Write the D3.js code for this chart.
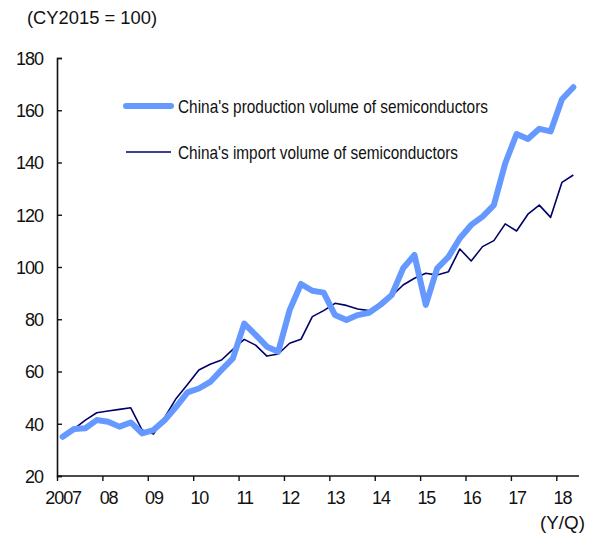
<!DOCTYPE html>
<html>
<head>
<meta charset="utf-8">
<script src="https://cdn.jsdelivr.net/npm/d3@7"></script>
<style>
  html, body { margin: 0; padding: 0; background: #fff; }
  svg text { font-family: "Liberation Sans", Arial, sans-serif; fill: #111; }
</style>
</head>
<body>
<svg id="chart" width="599" height="534"></svg>
<script>
// Quarterly index, CY2015 = 100, 2007 Q1 .. 2018 Q2
const quarters = d3.range(46).map(i => `${2007 + Math.floor(i / 4)}Q${(i % 4) + 1}`);

const production = [
  35.0, 38.0, 38.3, 41.4,
  40.8, 38.9, 40.5, 36.3,
  37.6, 41.4, 46.5, 52.0,
  53.5, 56.0, 60.6, 65.0,
  78.3, 74.0, 69.5, 67.6,
  83.5, 93.5, 90.9, 90.2,
  81.6, 79.7, 81.6, 82.5,
  85.5, 89.3, 99.5, 104.6,
  85.5, 99.5, 103.9, 111.0,
  116.1, 119.3, 123.7, 139.7,
  150.9, 149.0, 152.9, 151.9,
  164.2, 168.8
];

const imports = [
  34.8, 38.0, 41.4, 44.2,
  44.9, 45.5, 46.1, 37.6,
  36.1, 42.5, 49.7, 55.0,
  60.6, 62.8, 64.4, 68.5,
  72.3, 70.1, 65.9, 66.7,
  70.8, 72.3, 81.0, 83.3,
  86.1, 85.3, 83.9, 83.3,
  86.3, 88.9, 93.1, 95.7,
  97.6, 96.9, 98.2, 106.9,
  102.3, 107.8, 110.1, 116.5,
  113.8, 120.2, 123.7, 119.0,
  132.4, 135.2
];

const yearLabels = ["2007", "08", "09", "10", "11", "12", "13", "14", "15", "16", "17", "18"];
const yTicks = [20, 40, 60, 80, 100, 120, 140, 160, 180];

const seriesNames = [
  "China's production volume of semiconductors",
  "China's import volume of semiconductors"
];

const svg = d3.select("#chart");

const plotLeft = 57, plotRight = 579, plotTop = 58, plotBottom = 476;

// category axis: one slot per quarter, points in the middle of each slot
const x = d3.scaleLinear().domain([0, quarters.length]).range([plotLeft, plotRight]);
const y = d3.scaleLinear().domain([20, 180]).range([plotBottom, plotTop]);
const slot = x(1) - x(0);

// y axis, ticks pointing inward
const yAxis = svg.append("g")
  .attr("transform", `translate(${plotLeft},0)`)
  .call(d3.axisLeft(y).tickValues(yTicks).tickSize(-5).tickPadding(14));
yAxis.select(".domain").attr("stroke", "#111").attr("stroke-width", 1.6);
yAxis.selectAll(".tick line").attr("stroke", "#111").attr("stroke-width", 1.4);
yAxis.selectAll("text")
  .attr("font-size", 18).attr("letter-spacing", -1).attr("fill", "#111")
  .attr("dy", "0.36em");

// x axis, ticks at the start of each year, labels under the first quarter
const xAxis = svg.append("g")
  .attr("transform", `translate(0,${plotBottom})`)
  .call(d3.axisBottom(x)
    .tickValues(d3.range(0, quarters.length, 4))
    .tickSize(5).tickPadding(10)
    .tickFormat((d, i) => yearLabels[i]));
xAxis.select(".domain").attr("stroke", "#111").attr("stroke-width", 1.6)
  .attr("d", `M${plotLeft},0H${plotRight}`);
xAxis.selectAll(".tick line").attr("stroke", "#111").attr("stroke-width", 1.4);
xAxis.selectAll("text")
  .attr("x", slot / 2)
  .attr("font-size", 18).attr("letter-spacing", -1.1).attr("fill", "#111");

// unit and period captions
svg.append("text").attr("x", 27).attr("y", 24)
  .attr("font-size", 18.5)
  .attr("textLength", 130).attr("lengthAdjust", "spacingAndGlyphs")
  .text("(CY2015 = 100)");
svg.append("text").attr("x", 540).attr("y", 529)
  .attr("font-size", 18.5)
  .attr("textLength", 45).attr("lengthAdjust", "spacingAndGlyphs")
  .text("(Y/Q)");

const line = d3.line()
  .x((d, i) => x(i) + slot / 2)
  .y(d => y(d));

svg.append("path").datum(imports)
  .attr("fill", "none").attr("stroke", "#000066").attr("stroke-width", 1.6)
  .attr("stroke-linejoin", "round")
  .attr("d", line);

svg.append("path").datum(production)
  .attr("fill", "none").attr("stroke", "#6699ff").attr("stroke-width", 6)
  .attr("stroke-linejoin", "round").attr("stroke-linecap", "round")
  .attr("d", line);

// legend
const legend = svg.append("g");
const legendRows = [
  { name: seriesNames[0], color: "#6699ff", width: 6, y: 106, textLen: 310 },
  { name: seriesNames[1], color: "#000066", width: 1.6, y: 152, textLen: 280 }
];
legendRows.forEach(r => {
  legend.append("line")
    .attr("x1", 126).attr("x2", 171).attr("y1", r.y).attr("y2", r.y)
    .attr("stroke", r.color).attr("stroke-width", r.width)
    .attr("stroke-linecap", r.width > 3 ? "round" : "butt");
  legend.append("text")
    .attr("x", 178).attr("y", r.y + 6.5)
    .attr("font-size", 19)
    .attr("textLength", r.textLen).attr("lengthAdjust", "spacingAndGlyphs")
    .text(r.name);
});
</script>
</body>
</html>
